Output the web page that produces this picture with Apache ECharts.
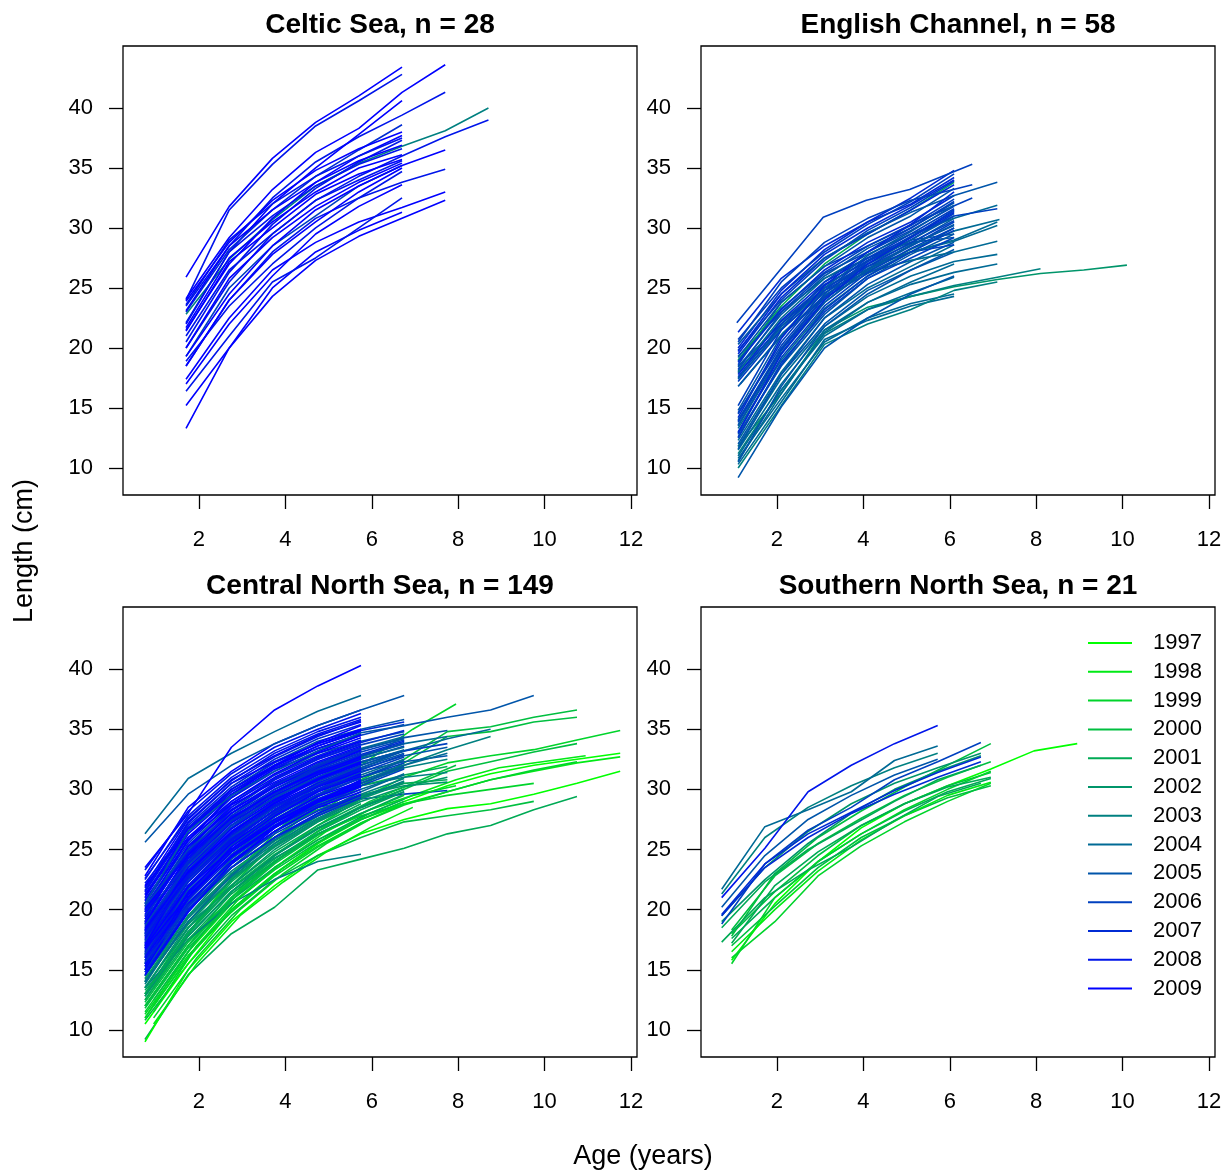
<!DOCTYPE html>
<html><head><meta charset="utf-8">
<script src="https://cdn.jsdelivr.net/npm/echarts@6/dist/echarts.min.js"></script>
<style>html,body{margin:0;padding:0;background:#fff}#c{width:1232px;height:1176px}</style>
</head><body><div id="c"></div>
<script>
// ---------- data ----------
const years = ['1997','1998','1999','2000','2001','2002','2003','2004','2005','2006','2007','2008','2009'];
const yearColors = ['#00FF00','#00EA15','#00D42B','#00BF40','#00AA55','#00956A','#008080','#006A95','#0055AA','#0040BF','#002BD4','#0015EA','#0000FF'];
const panelTitles = ['Celtic Sea, n = 28','English Channel, n = 58','Central North Sea, n = 149','Southern North Sea, n = 21'];
const xTicks = [2,4,6,8,10,12];
const yTicks = [10,15,20,25,30,35,40];

// each fish: [year, age at first point, lengths at successive ages (+1 yr), optional age of last point]
const celticSea = [
 [2003,1.7,[22.8,27.4,30.7,33.5,35.4,36.8,38.1,40.0]],
 [2006,1.7,[19.3,25.0,28.5,31.0,33.5,35.2]],
 [2009,1.7,[25.9,31.8,35.8,38.8,41.0,43.4]],
 [2008,1.7,[24.0,31.5,35.3,38.5,40.6,42.8]],
 [2009,1.7,[24.1,29.2,33.2,36.3,38.3,41.3,43.6]],
 [2008,1.7,[23.5,28.5,32.5,35.5,37.6,39.4,41.3]],
 [2009,1.7,[22.0,28.0,32.0,35.0,37.8,40.6]],
 [2007,1.7,[23.0,28.2,31.5,34.3,36.5,38.6]],
 [2009,1.7,[21.5,27.0,30.8,33.8,36.0,37.7]],
 [2008,1.7,[20.5,26.3,30.3,33.3,35.5,37.3]],
 [2008,1.7,[20.0,25.5,29.5,32.3,34.3,36.0,37.6,39.0]],
 [2009,1.7,[19.3,24.5,28.5,31.5,33.5,35.2,36.5]],
 [2008,1.7,[18.5,24.0,28.0,30.8,32.5,33.8,34.9]],
 [2009,1.7,[17.4,22.5,26.5,28.8,30.5,31.7,33.0]],
 [2009,1.7,[15.2,20.0,24.3,27.3,29.3,30.8,32.3]],
 [2009,1.7,[13.3,20.0,25.0,28.0,29.8,31.3]],
 [2008,1.7,[16.4,21.0,25.5,27.5,30.0,32.5]],
 [2009,1.7,[17.0,22.0,26.0,29.5,31.8,33.6]],
 [2008,1.7,[18.9,23.5,27.0,30.0,32.5,34.7]],
 [2009,1.7,[18.5,24.0,27.8,30.5,33.0,35.0]],
 [2009,1.7,[20.0,25.8,29.2,31.8,33.8,35.4]],
 [2008,1.7,[21.0,26.5,29.5,32.3,34.0,35.6]],
 [2009,1.7,[21.4,27.2,30.0,32.8,34.5,35.7]],
 [2009,1.7,[21.7,27.5,30.5,33.0,35.0,36.1]],
 [2008,1.7,[22.1,28.0,31.0,33.5,35.3,36.6]],
 [2009,1.7,[23.1,28.5,31.5,33.8,35.6,36.9]],
 [2008,1.7,[23.6,29.0,32.0,34.3,36.0,37.5]],
 [2009,1.7,[23.9,28.8,32.3,34.8,36.6,38.0]]
];

const englishChannel = [
 [2002,1.1,[11.8,16.2,21.5,23.4,24.3,25.1,25.7,26.2,26.5,26.9]],
 [2003,1.1,[11.2,16.5,21.2,23.2,24.3,25.2,25.9,26.6]],
 [2004,1.1,[11.0,16.5,21.0,23.2,24.6,25.9]],
 [2004,1.1,[10.8,15.8,20.5,22.5,23.7,24.5]],
 [2004,1.1,[10.3,15.5,20.7,22.3,23.5,24.3]],
 [2003,1.1,[10.0,15.2,20.3,22.0,23.2,24.8,25.5]],
 [2004,1.1,[11.8,17.5,21.8,24.3,26.0,27.2,27.8]],
 [2004,1.1,[11.5,17.0,21.5,23.8,25.3,26.3,27.0]],
 [2004,1.1,[10.6,16.2,21.3,23.8,25.5,27.0]],
 [2005,1.1,[9.2,15.1,20.0,22.5,24.5,26.0]],
 [2004,1.1,[12.3,18.0,22.5,25.0,26.8,28.6]],
 [2005,1.1,[12.0,17.8,22.0,24.8,26.5,28.2]],
 [2005,1.1,[10.5,16.8,21.8,24.5,26.5,28.0]],
 [2005,1.1,[11.6,17.8,22.5,25.3,27.2,28.8]],
 [2004,1.1,[17.9,21.8,24.8,26.3,27.3,28.0,28.9]],
 [2006,1.1,[18.5,22.0,25.0,26.8,28.0,28.6]],
 [2005,1.1,[19.3,23.0,25.8,27.5,28.8,29.2]],
 [2005,1.1,[18.1,22.2,25.2,27.3,29.0,29.5]],
 [2004,1.1,[17.5,21.6,24.6,26.6,28.0,28.9,30.2]],
 [2004,1.15,[17.0,21.3,24.5,26.5,28.3,29.8,30.7]],
 [2005,1.1,[16.8,21.0,24.2,26.2,28.0,30.0]],
 [2005,1.1,[17.4,21.8,25.0,27.0,28.7,30.8]],
 [2006,1.1,[17.2,21.5,24.8,26.8,28.5,30.5]],
 [2006,1.1,[17.6,22.0,25.3,27.2,29.0,31.2]],
 [2007,1.1,[17.8,22.3,25.5,27.5,29.2,31.5]],
 [2004,1.1,[18.0,22.5,25.8,27.8,29.5,30.8,31.9]],
 [2006,1.1,[18.2,23.0,26.2,28.0,29.8,31.8]],
 [2005,1.1,[18.4,22.8,26.0,28.3,30.0,32.1]],
 [2006,1.1,[18.6,23.8,26.8,28.5,30.2,32.4]],
 [2007,1.1,[18.8,23.2,26.5,28.8,30.5,32.7]],
 [2001,1.1,[19.0,23.5,27.0,29.5,31.5,33.8]],
 [2005,1.1,[19.2,23.8,26.8,29.2,31.0,33.3]],
 [2007,1.1,[19.5,24.2,27.5,29.5,31.5,33.6]],
 [2006,1.1,[19.8,24.0,27.3,29.8,31.7,33.9]],
 [2007,1.1,[20.0,24.8,28.2,30.5,32.0,34.2]],
 [2005,1.1,[20.3,24.5,27.5,29.6,31.3,32.7,33.8]],
 [2006,1.1,[20.7,25.0,28.0,30.3,32.2,34.5]],
 [2007,1.1,[21.3,25.8,28.5,30.5,32.5,34.8]],
 [2007,1.1,[19.7,24.5,27.8,30.0,31.9,34.0]],
 [2006,1.1,[18.9,23.3,26.3,28.5,30.3,32.5],6.52],
 [2006,1.1,[20.5,25.5,28.8,30.8,32.3,33.6],6.52],
 [2006,1.07,[22.1,26.5,30.9,32.3,33.2,35.3],6.52],
 [2006,1.1,[15.2,21.5,25.5,28.0,30.0,32.2]],
 [2005,1.1,[14.8,21.0,25.0,27.7,29.7,31.9]],
 [2006,1.1,[14.5,20.5,24.8,27.5,29.5,31.6]],
 [2007,1.1,[14.2,20.8,25.2,28.0,30.3,33.0]],
 [2005,1.1,[14.0,20.0,24.3,27.0,29.0,31.0]],
 [2006,1.1,[13.8,19.8,24.0,26.8,28.8,30.6]],
 [2005,1.1,[13.5,19.5,23.8,26.5,28.5,30.3]],
 [2004,1.1,[13.3,19.0,23.3,26.0,28.0,29.0,30.5]],
 [2006,1.1,[13.0,19.2,23.5,26.3,28.3,30.0]],
 [2005,1.1,[12.8,18.5,22.8,25.8,27.8,29.5]],
 [2006,1.1,[12.5,18.8,23.0,25.8,27.5,29.2]],
 [2006,1.1,[14.6,20.2,24.5,27.3,29.3,31.4]],
 [2005,1.1,[13.6,19.6,23.8,26.6,28.6,30.2]],
 [2006,1.1,[12.6,18.6,23.2,26.0,28.0,29.8]],
 [2007,1.1,[12.9,19.5,24.0,27.0,29.2,31.3]],
 [2006,1.1,[13.9,19.9,24.2,27.2,29.3,31.0,31.6]]
];

const centralNorthSea = [
 // long-lived, early year classes
 [2001,0.75,[9.2,14.6,18.0,20.2,23.3,24.2,25.1,26.3,27.0,28.3,29.4]],
 [1997,0.75,[9.0,15.0,19.0,22.0,24.5,26.3,27.5,28.4,28.8,29.6,30.5,31.5]],
 [2000,0.75,[10.8,15.5,19.5,22.5,24.5,26.0,27.3,27.8,28.3,29.0]],
 [1999,0.75,[12.0,17.0,21.0,24.0,26.3,27.8,28.8,29.5,30.0,30.5]],
 [1998,0.75,[11.0,16.5,20.5,23.5,25.8,27.5,28.8,29.8,30.8,31.5,32.2,32.7]],
 [1997,0.75,[10.5,15.5,20.0,23.0,25.5,27.5,29.0,30.3,31.3,32.0,32.5,33.0]],
 [1998,0.95,[12.0,17.0,20.5,23.5,26.0,28.0,29.5,30.8,31.8,32.3,32.8]],
 [1999,0.75,[11.0,16.0,20.0,23.0,25.3,27.2,28.7,29.8,30.8,31.6,32.3]],
 [2000,0.75,[12.0,17.0,21.5,24.0,26.5,28.5,30.0,31.5,32.3,33.1,33.8]],
 [1999,0.75,[11.5,16.5,21.0,24.5,27.0,29.2,31.0,32.2,32.8,33.3,34.1,34.9]],
 [2000,0.75,[13.0,18.5,22.0,25.5,28.0,30.3,32.2,34.4,34.8,35.6,36.0]],
 [2000,0.75,[12.5,18.0,22.5,26.0,28.5,30.8,32.5,34.8,35.2,36.0,36.6]],
 [1999,0.95,[13.5,19.0,23.5,27.0,30.0,32.5,35.0,37.1]],
 [2003,0.75,[14.0,19.5,23.5,26.5,28.8,30.5,32.0,33.3,34.4]],
 [2004,0.75,[15.5,21.0,25.0,28.0,30.0,31.8,33.2,34.2,35.0]],
 // green / teal, shorter
 [2001,0.75,[13.5,18.5,22.0,24.8,27.0,28.8]],
 [2002,0.75,[14.0,19.0,22.5,25.2,27.3,29.0]],
 [2000,0.75,[12.0,17.0,20.8,23.8,26.2,28.0]],
 [1999,0.95,[11.0,16.0,20.0,23.0,25.5,27.5]],
 [2001,0.75,[12.8,17.8,21.5,24.2,26.5,28.3,29.8]],
 [2003,0.75,[15.0,20.0,23.2,25.8,27.8,29.5]],
 [2002,0.75,[13.0,18.2,21.8,24.5,26.7,28.5,30.0]],
 [2000,0.75,[11.8,16.8,20.5,23.3,25.6,27.5,29.0]],
 [2003,0.75,[14.5,19.5,22.7,25.3,27.4,29.2]],
 [2001,0.75,[13.3,17.5,20.8,23.5,25.8,27.7,29.2]],
 [1998,0.95,[10.5,15.5,19.5,22.3,24.8,26.8,28.5]],
 [2002,0.75,[14.3,18.8,21.8,24.3,26.3,28.0]],
 [2000,0.75,[12.3,17.3,21.0,24.0,26.2,28.0,29.5]],
 [1999,0.75,[11.3,16.2,19.8,22.8,25.2,27.2,28.8]],
 [2003,0.75,[13.5,17.5,20.5,22.5,24.0,24.6]],
 // ending at 7.75
 [2005,0.75,[18.0,24.0,27.5,30.0,31.8,33.3,34.3,34.9]],
 [2004,0.75,[17.0,23.0,26.5,29.0,31.0,32.7,33.8,34.4]],
 [2006,0.75,[19.0,24.5,27.5,29.5,31.0,32.3,33.2,33.8]],
 [2005,0.75,[16.5,22.0,25.5,28.0,30.0,31.5,32.3,32.8]],
 [2003,0.75,[15.0,20.5,24.0,26.8,28.8,30.3,31.0,31.4]],
 [2006,0.75,[18.5,23.0,25.8,27.5,28.5,29.2,29.6,29.9]],
 [2001,0.75,[14.0,19.0,23.0,26.0,28.5,30.3,31.2,31.9]],
 [2002,0.75,[13.5,18.5,22.0,25.0,27.3,29.0,30.2,31.0]],
 [2004,0.75,[16.0,21.5,25.0,27.5,29.5,31.0,32.0,33.0]],
 [2000,0.95,[12.5,17.5,21.5,24.5,27.0,29.0,30.5,32.0]],
 [2001,0.75,[13.0,18.0,22.3,25.3,27.8,29.5,30.5,30.8]],
 [2005,0.75,[17.5,22.5,26.0,28.5,30.3,31.7,32.8,33.5]],
 [2002,0.75,[14.5,20.0,23.8,26.5,28.3,29.5,30.3,30.6]],
 [1999,0.95,[11.5,17.0,21.0,24.0,26.5,28.3,29.5,30.3]],
 [2003,0.75,[15.5,21.0,24.5,27.0,29.0,30.5,31.8,32.5]],
 // ending at 6.75
 [2003,0.75,[15.8,21.0,24.5,27.0,29.0,30.5,31.8]],
 [2003,0.75,[14.8,20.0,23.5,26.0,28.0,29.6,30.9]],
 [2002,0.75,[14.2,19.5,23.0,25.7,27.8,29.4,30.6]],
 [2002,0.75,[13.5,18.8,22.5,25.3,27.5,29.2,30.5]],
 [2001,0.75,[13.0,18.0,21.8,24.6,26.8,28.6,30.0]],
 [2001,0.75,[12.5,17.5,21.3,24.0,26.3,28.0,29.6]],
 [2003,0.75,[16.3,21.0,24.5,27.2,29.2,30.7,32.0]],
 [2002,0.75,[12.8,17.8,21.5,24.5,26.8,28.5,29.8]],
 [2003,0.75,[13.8,19.3,22.9,25.5,27.6,29.3,30.7]],
 [2004,0.75,[14.0,19.0,22.8,25.8,28.0,29.8,31.3]],
 [2005,0.75,[21.0,26.5,30.0,32.3,34.0,35.0,35.8]],
 [2006,0.75,[20.5,25.8,29.3,31.7,33.4,34.5,35.4]],
 [2005,0.75,[20.0,25.3,28.8,31.2,33.0,34.0,34.8]],
 [2006,0.75,[19.5,24.8,28.3,30.8,32.5,33.7,34.6]],
 [2004,0.75,[19.0,24.3,27.8,30.3,32.1,33.4,34.4]],
 [2006,0.75,[18.5,23.8,27.3,29.8,31.7,33.1,34.1]],
 [2005,0.75,[18.0,23.3,26.8,29.4,31.3,32.8,33.8]],
 [2006,0.75,[17.5,22.8,26.3,29.0,31.0,32.5,33.6]],
 [2004,0.75,[17.0,22.3,25.8,28.5,30.6,32.2,33.3]],
 [2005,0.75,[16.5,21.8,25.4,28.1,30.2,31.8,33.0]],
 [2006,0.75,[16.0,21.3,25.0,27.7,29.8,31.4,32.7]],
 [2005,0.75,[15.5,20.8,24.6,27.3,29.4,31.0,32.4]],
 [2004,0.75,[15.0,20.3,24.2,26.9,29.0,30.7,32.0]],
 [2006,0.75,[14.5,19.8,23.8,26.5,28.6,30.3,31.7]],
 [2007,0.75,[21.5,26.8,30.0,32.2,33.8,34.9,35.6]],
 [2007,0.75,[19.8,25.0,28.5,30.9,32.6,33.9,34.9]],
 [2007,0.75,[18.3,23.5,27.0,29.6,31.5,32.9,34.0]],
 [2007,0.75,[16.8,22.0,25.6,28.3,30.4,32.0,33.2]],
 [2004,0.75,[18.8,23.5,26.8,29.3,31.2,32.6,33.5]],
 [2005,0.75,[17.8,22.8,26.1,28.8,30.9,32.3,33.2]],
 [2006,0.75,[16.8,21.5,24.8,27.4,29.5,31.0,32.2]],
 [2004,0.75,[15.3,20.5,23.9,26.5,28.5,30.0,31.2]],
 [2005,0.75,[20.3,25.0,28.0,30.3,32.0,33.3,34.2]],
 [2006,0.75,[19.2,24.0,27.3,29.8,31.6,32.8,33.9]],
 [2005,0.75,[18.2,22.7,26.0,28.5,30.5,32.0,33.2]],
 [2006,0.75,[17.2,22.0,25.4,28.0,30.0,31.6,32.9]],
 [2004,0.75,[16.2,21.4,24.8,27.5,29.6,31.2,32.5]],
 [2005,0.75,[15.7,20.6,24.0,26.8,28.9,30.5,31.9]],
 // ending at 5.75
 [2009,0.75,[22.8,28.5,31.5,33.8,35.3,36.6]],
 [2008,0.75,[22.5,27.8,31.0,33.2,34.8,36.0]],
 [2009,0.75,[22.0,27.5,30.8,32.8,34.5,35.6]],
 [2007,0.75,[21.8,27.0,30.2,32.5,34.2,35.4]],
 [2009,0.75,[21.5,27.2,30.5,32.3,33.8,35.0]],
 [2008,0.75,[21.3,26.5,29.8,32.0,33.6,34.8]],
 [2009,0.75,[21.0,26.8,30.0,32.0,33.4,34.6]],
 [2008,0.75,[20.8,26.0,29.3,31.5,33.2,34.5]],
 [2009,0.75,[20.5,26.3,29.5,31.7,33.0,34.3]],
 [2007,0.75,[20.3,25.5,29.0,31.2,32.8,34.1]],
 [2009,0.75,[20.0,25.8,28.8,31.0,32.7,34.0]],
 [2008,0.75,[19.8,25.2,28.5,30.8,32.5,33.8]],
 [2009,0.75,[19.6,25.0,28.7,30.6,32.3,33.6]],
 [2008,0.75,[19.4,24.8,28.2,30.5,32.0,33.4]],
 [2009,0.75,[19.2,25.3,28.3,30.3,31.8,33.2]],
 [2007,0.75,[19.0,24.5,27.8,30.0,31.7,33.0]],
 [2009,0.75,[18.8,24.3,27.5,29.8,31.5,32.8]],
 [2008,0.75,[18.6,24.0,27.7,29.7,31.3,32.6]],
 [2009,0.75,[18.4,23.8,27.2,29.5,31.2,32.5]],
 [2008,0.75,[18.2,24.2,27.3,29.3,31.0,32.3]],
 [2009,0.75,[18.0,23.5,27.0,29.2,30.8,32.1]],
 [2007,0.75,[17.8,23.3,26.8,29.0,30.7,32.0]],
 [2009,0.75,[17.6,23.0,26.5,28.8,30.5,31.8]],
 [2008,0.75,[17.4,22.8,26.3,28.7,30.3,31.6]],
 [2009,0.75,[17.2,22.5,26.0,28.5,30.2,31.5]],
 [2008,0.75,[17.0,22.3,25.8,28.3,30.0,31.3]],
 [2009,0.75,[16.8,22.0,25.5,28.0,29.8,31.1]],
 [2007,0.75,[16.6,21.8,25.3,27.8,29.6,30.9]],
 [2009,0.75,[16.4,21.5,25.0,27.5,29.4,30.7]],
 [2008,0.75,[16.2,21.3,24.8,27.3,29.2,30.5]],
 [2009,0.75,[16.0,21.0,24.5,27.0,29.0,30.3]],
 [2008,0.75,[15.8,20.8,24.3,26.8,28.7,30.0]],
 [2009,0.75,[15.5,20.5,24.0,26.5,28.5,29.8]],
 [2007,0.75,[15.2,20.2,23.8,26.3,28.2,29.6]],
 [2009,0.75,[15.0,21.0,24.8,27.2,29.0,30.4]],
 [2008,0.75,[14.8,20.0,23.5,26.0,28.0,29.5]],
 [2009,0.75,[14.6,19.8,23.8,26.8,29.0,30.8]],
 [2006,0.75,[20.2,25.0,28.0,30.3,32.0,33.3]],
 [2006,0.75,[18.7,23.7,27.0,29.3,31.0,32.4]],
 [2006,0.75,[17.3,22.5,26.0,28.5,30.4,31.9]],
 [2006,0.75,[16.3,21.7,25.3,27.9,29.9,31.4]],
 [2008,0.75,[21.6,27.3,30.5,32.7,34.4,35.7]],
 [2009,0.75,[20.7,25.7,29.5,32.0,33.9,35.3]],
 [2008,0.75,[19.9,24.7,28.0,30.4,32.2,33.5]],
 [2009,0.75,[18.9,24.6,28.0,30.2,31.9,33.3]],
 [2007,0.75,[17.9,23.9,27.4,29.6,31.4,32.9]],
 [2009,0.75,[17.1,23.1,26.7,29.1,30.9,32.3]],
 [2008,0.75,[16.1,22.0,25.7,28.3,30.3,31.8]],
 [2009,0.75,[15.3,21.4,25.2,27.8,29.8,31.3]],
 [2008,0.75,[22.2,26.8,29.8,31.8,33.4,34.6]],
 [2009,0.75,[21.2,26.0,29.0,31.3,33.1,34.5]],
 [2007,0.75,[19.5,24.0,27.5,30.0,31.9,33.4]],
 [2009,0.75,[18.3,23.2,26.4,28.9,30.8,32.2]],
 [2008,0.75,[17.7,22.6,25.9,28.2,29.9,31.2]],
 [2009,0.75,[16.9,21.9,25.0,27.3,29.1,30.6]],
 [2007,0.75,[15.6,20.4,23.5,26.0,27.8,29.3]],
 [2008,0.75,[23.3,28.2,31.3,33.5,35.0,36.3]],
 [2009,0.75,[20.1,24.5,27.6,29.8,31.4,32.7]],
 [2008,0.75,[18.1,22.9,26.2,28.6,30.3,31.7]],
 [2009,0.75,[16.7,21.2,24.4,26.9,28.9,30.2]],
 [2008,0.75,[22.6,27.6,30.7,33.0,34.6,35.8]],
 [2009,0.75,[21.9,26.7,29.6,31.9,33.6,34.9]],
 // outliers at the top
 [2005,0.75,[20.5,26.5,29.5,31.5,33.2,34.7,35.3,36.0,36.6,37.8]],
 [2004,0.75,[26.3,30.9,33.0,34.8,36.5,37.8]],
 [2005,0.75,[25.6,29.6,32.0,33.8,35.3,36.6,37.8]],
 [2009,0.75,[23.5,28.0,33.5,36.6,38.6,40.3]]
];

const southernNorthSea = [
 [1997,0.95,[15.8,20.5,24.0,26.8,28.8,30.3,31.7,33.2,33.8]],
 [2000,0.95,[17.8,23.0,26.0,28.2,30.2,32.0,33.8]],
 [2000,0.95,[18.0,21.5,24.5,27.0,28.8,30.3,31.4]],
 [2001,0.95,[17.6,21.0,24.0,26.3,28.2,29.8,30.9]],
 [1999,0.95,[16.0,19.0,22.8,25.3,27.3,29.0,30.5]],
 [2000,0.95,[17.0,20.3,23.5,26.0,27.8,29.3,30.3]],
 [1999,0.95,[15.5,21.0,24.0,26.3,28.3,30.0,31.5]],
 [2000,0.95,[18.3,22.8,25.5,27.6,29.5,31.0,32.3]],
 [2001,0.95,[17.2,22.0,24.8,27.0,28.8,30.2,31.0]],
 [1998,0.95,[16.5,20.0,23.2,25.8,27.8,29.5,30.6]],
 [2001,0.72,[17.3,21.0,23.3,25.2,27.4,29.4,30.5]],
 [2001,0.72,[18.5,22.3,25.0,27.0,29.0,30.8,32.0]],
 [2002,0.72,[19.5,23.5,26.5,28.8,30.5,31.8,33.0]],
 [2002,0.72,[19.0,22.5,25.5,28.0,30.0,31.5,32.8]],
 [2003,0.72,[21.3,26.0,28.5,30.3,31.8,33.0]],
 [2004,0.72,[21.7,26.9,28.3,29.8,32.4,33.6]],
 [2005,0.72,[20.2,24.5,27.5,29.5,31.2,32.5]],
 [2006,0.72,[18.8,23.8,26.6,28.5,30.8,32.3,33.9]],
 [2007,0.72,[19.6,23.8,26.3,28.1,29.9,31.4,32.7]],
 [2007,0.72,[19.5,23.5,26.0,28.0,29.6,31.0,32.3]],
 [2008,0.72,[21.0,25.1,29.8,32.0,33.8,35.3]]
];

// ---------- layout ----------
const panels = [celticSea, englishChannel, centralNorthSea, southernNorthSea];
const gridBoxes = [
  {left:123, top:46, width:514, height:449},
  {left:701, top:46, width:514, height:449},
  {left:123, top:607, width:514, height:450},
  {left:701, top:607, width:514, height:450}
];
const FONT = '"Liberation Sans", Arial, Helvetica, sans-serif';

function colorOf(yr){ return yearColors[years.indexOf(String(yr))]; }

const series = [];
panels.forEach((fish, p) => {
  fish.forEach(([yr, a0, lens, aEnd]) => {
    const c = colorOf(yr);
    series.push({
      type: 'line', name: String(yr), xAxisIndex: p, yAxisIndex: p,
      data: lens.map((v, i) => [(i === lens.length - 1 && aEnd != null) ? aEnd : +(a0 + i).toFixed(2), v]),
      symbol: 'none', showSymbol: false, silent: true, animation: false,
      lineStyle: { color: c, width: 1.6 }, itemStyle: { color: c },
      emphasis: { disabled: true }
    });
  });
});

const xAxis = gridBoxes.map((g, i) => ({
  type: 'value', gridIndex: i, min: 0.241, max: 12.139,
  axisLine: { show: false }, splitLine: { show: false },
  axisTick: { show: true, inside: false, length: 14, customValues: xTicks, lineStyle: { color: '#000', width: 1.3 } },
  axisLabel: { show: true, customValues: xTicks, margin: 34, fontSize: 22, color: '#000', fontFamily: FONT }
}));
const yAxis = gridBoxes.map((g, i) => ({
  type: 'value', gridIndex: i, min: 7.75, max: 45.16,
  axisLine: { show: false }, splitLine: { show: false },
  axisTick: { show: true, inside: false, length: 14, customValues: yTicks, lineStyle: { color: '#000', width: 1.3 } },
  axisLabel: { show: true, customValues: yTicks, margin: 30, fontSize: 22, color: '#000', fontFamily: FONT }
}));

const titles = panelTitles.map((t, i) => ({
  text: t, left: gridBoxes[i].left + gridBoxes[i].width / 2, textAlign: 'center',
  top: i < 2 ? 11 : 572, padding: 0,
  textStyle: { fontSize: 28, fontWeight: 'bold', color: '#000', fontFamily: FONT }
}));

const chart = echarts.init(document.getElementById('c'), null, { renderer: 'canvas' });
chart.setOption({
  backgroundColor: '#fff',
  animation: false,
  title: titles,
  grid: gridBoxes.map(g => Object.assign({ show: true, borderColor: '#000', borderWidth: 1.3, backgroundColor: 'transparent', containLabel: false }, g)),
  xAxis, yAxis,
  legend: {
    data: years, orient: 'vertical', left: 1088, top: 632, padding: 0,
    itemWidth: 44, itemHeight: 2, itemGap: 6.8, icon: 'rect', selectedMode: false,
    textStyle: { fontSize: 22, color: '#000', fontFamily: FONT, lineHeight: 22, padding: [0, 0, 0, 16] }
  },
  graphic: [
    { type: 'text', x: 25, y: 551, rotation: Math.PI / 2,
      style: { text: 'Length (cm)', fontSize: 27, fontFamily: FONT, fill: '#000', align: 'center', verticalAlign: 'middle' } },
    { type: 'text', x: 643, y: 1157,
      style: { text: 'Age (years)', fontSize: 27, fontFamily: FONT, fill: '#000', align: 'center', verticalAlign: 'middle' } }
  ],
  series
});
</script>
</body></html>
